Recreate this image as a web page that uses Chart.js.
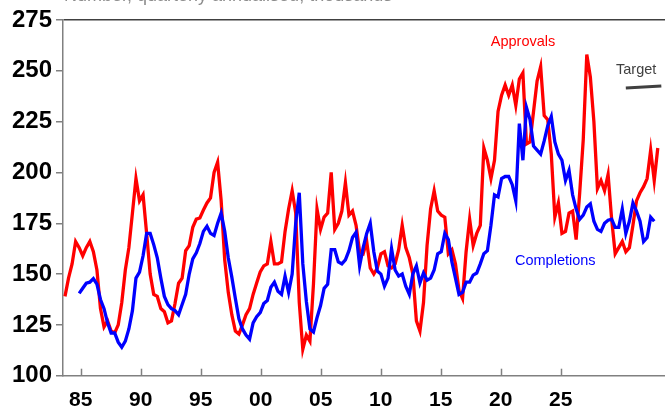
<!DOCTYPE html>
<html><head><meta charset="utf-8">
<script src="https://cdn.jsdelivr.net/npm/chart.js@4.4.0/dist/chart.umd.min.js"></script>
<style>html,body{margin:0;padding:0;background:#fff;overflow:hidden}#wrap{width:665px;height:410px}</style>
</head><body><div id="wrap"><canvas id="c" width="665" height="410"></canvas></div>
<script>
// ---- data (quarterly readings) ----
const subtitle = 'Number, quarterly annualised, thousands';
const xStart = 1983.69;      // position of first quarter on the printed axis
const xStep = 0.2958;        // one quarter on the printed axis
const approvals = [
139,148,155,166,163,159,163,166,161,152,133,124,127,122,121,125,136,152,163,180,
197,186,189,170,150,140,139,133,131.5,126,127,135.5,145.5,148,161.5,164,173,177,177.6,181.5,
185,187.5,200,205,186,157,141,130,122,120.5,125,130,133,140,145.6,151,154,155,166,155,
155,156,171,182,191,180,136,113,120,117,145,182,172,178,180,200,172,175,181,195,
179,181,174,161,160,166,153,150,153,160,161,154,153,155,162,174,163,158,150,127,
122,136,164,182,191,181,179,178,160,162,155,142,138,161,177,164,170,174,212,206,
197,206,230,238,243,238,243,233,246,249,214,215,230,245,252,228,226,209,178,185,
170,171,180,181,167,190,216,258,247,225,192,196,191,199,177,160,163,166,161,163,
174,186,190,193,197,211,196,212
];
const completionsStart = 4;  // completions begin four quarters later
const completions = [
140.5,143,145.5,146,147.8,145,137.5,133,126,121,121,116.5,114,117,123,132,
148,151,159,170,170,164.5,158,148,139,135,133,132,130,135,140,150,157.5,160.5,165,171,
173.5,170,169,175,180,171,158,148.5,138,128,123,120,118,126,129,131,135.5,137,143.5,146,
141.5,140,149,141,150,175,190,155,136.5,123,121.5,128.5,134.5,143,145,162,162,156,155,157,
161.5,168,170.5,154,163,170,175,161,151.5,150,144,148,162.5,152,149,150,144,140,150,154,
145.6,150.5,147,148,152,160,161,170,167,156,148,140,141,146,146,149.5,150.5,155,160,161.5,
174,189,188,197,198,198,194,186,224,206,232,226,213,211,209,215.5,223,227.5,215,209,
206,196,201,189,182,177,179,183,184.5,176,172,171,175,176.5,177,173,173,182,170,176,
185,181,176,166,168,178,176
];
const targetQuarters = [158, 168];
const targetValues = [241.5, 242.5];
const tickYears = [1985,1990,1995,2000,2005,2010,2015,2020,2025];
const tickLabels = ['85','90','95','00','05','10','15','20','25'];
const yTickValues = [100,125,150,175,200,225,250,275];

const labelsText = [
  {text:'Approvals', x:2019.17, y:262.3, color:'#ff0000'},
  {text:'Completions', x:2021.19, y:154.5, color:'#0000ff'},
  {text:'Target', x:2029.61, y:248.2, color:'#404040'}
];

const toPts = (arr, start) => arr.map((v,i)=>({x: xStart + (start+i)*xStep, y: v}));

const overlay = {
  id:'overlay',
  afterDraw(chart){
    const ctx = chart.ctx, xs = chart.scales.x, ys = chart.scales.y;
    ctx.save();
    // inward tick marks on the x axis
    ctx.strokeStyle = '#808080'; ctx.lineWidth = 1.5;
    const b = chart.chartArea.bottom;
    xs.ticks.forEach(t=>{
      const px = Math.round(xs.getPixelForValue(t.value)) + 0.5;
      ctx.beginPath(); ctx.moveTo(px, b); ctx.lineTo(px, b-7); ctx.stroke();
    });
    // series labels
    ctx.font = '14.5px "Liberation Sans", Arial, sans-serif';
    ctx.textBaseline = 'alphabetic'; ctx.textAlign = 'left';
    labelsText.forEach(l=>{
      ctx.fillStyle = l.color;
      ctx.fillText(l.text, xs.getPixelForValue(l.x), ys.getPixelForValue(l.y));
    });
    // subtitle (cut at top edge)
    ctx.fillStyle = '#8c8c8c';
    ctx.font = '18px "Liberation Sans", Arial, sans-serif';
    ctx.fillText(subtitle, 64, 0.5);
    ctx.restore();
  }
};

new Chart(document.getElementById('c'), {
  type:'line',
  data:{
    datasets:[
      {label:'Completions', data: toPts(completions, completionsStart), borderColor:'#0000ff', borderWidth:3.3, pointRadius:0, tension:0, order:0},
      {label:'Approvals', data: toPts(approvals, 0), borderColor:'#ff0000', borderWidth:3.3, pointRadius:0, tension:0, order:1},
      {label:'Target', data: targetQuarters.map((q,i)=>({x: xStart + q*xStep, y: targetValues[i]})), borderColor:'#404040', borderWidth:3, pointRadius:0, tension:0, order:2}
    ]
  },
  options:{
    responsive:false, animation:false, devicePixelRatio:1,
    layout:{padding:{top:20, right:0, left:0, bottom:0}},
    plugins:{legend:{display:false}, tooltip:{enabled:false}},
    scales:{
      x:{
        type:'linear', min:1983.525, max:2033.69,
        afterBuildTicks: s => { s.ticks = tickYears.map(v=>({value:v})); },
        afterFit: s => { s.height = 34.3; },
        ticks:{
          callback: v => tickLabels[tickYears.indexOf(v)],
          font:{family:'"Liberation Sans", Arial, sans-serif', size:21, weight:'bold'},
          color:'#000', padding:12, autoSkip:false, maxRotation:0
        },
        grid:{display:true, drawOnChartArea:false, drawTicks:false},
        border:{display:true, color:'#808080', width:1.5}
      },
      y:{
        min:100, max:275,
        afterBuildTicks: s => { s.ticks = yTickValues.map(v=>({value:v})); },
        afterFit: s => { s.width = 63; },
        ticks:{
          font:{family:'"Liberation Sans", Arial, sans-serif', size:24, weight:'bold'},
          color:'#000', padding:4
        },
        grid:{
          drawOnChartArea:true, drawTicks:true, tickLength:7,
          color: c => (c.tick && c.tick.value === 275) ? '#404040' : 'rgba(0,0,0,0)',
          tickColor:'#808080', lineWidth:1.5
        },
        border:{display:true, color:'#808080', width:1.5}
      }
    }
  },
  plugins:[overlay]
});
</script></body></html>
